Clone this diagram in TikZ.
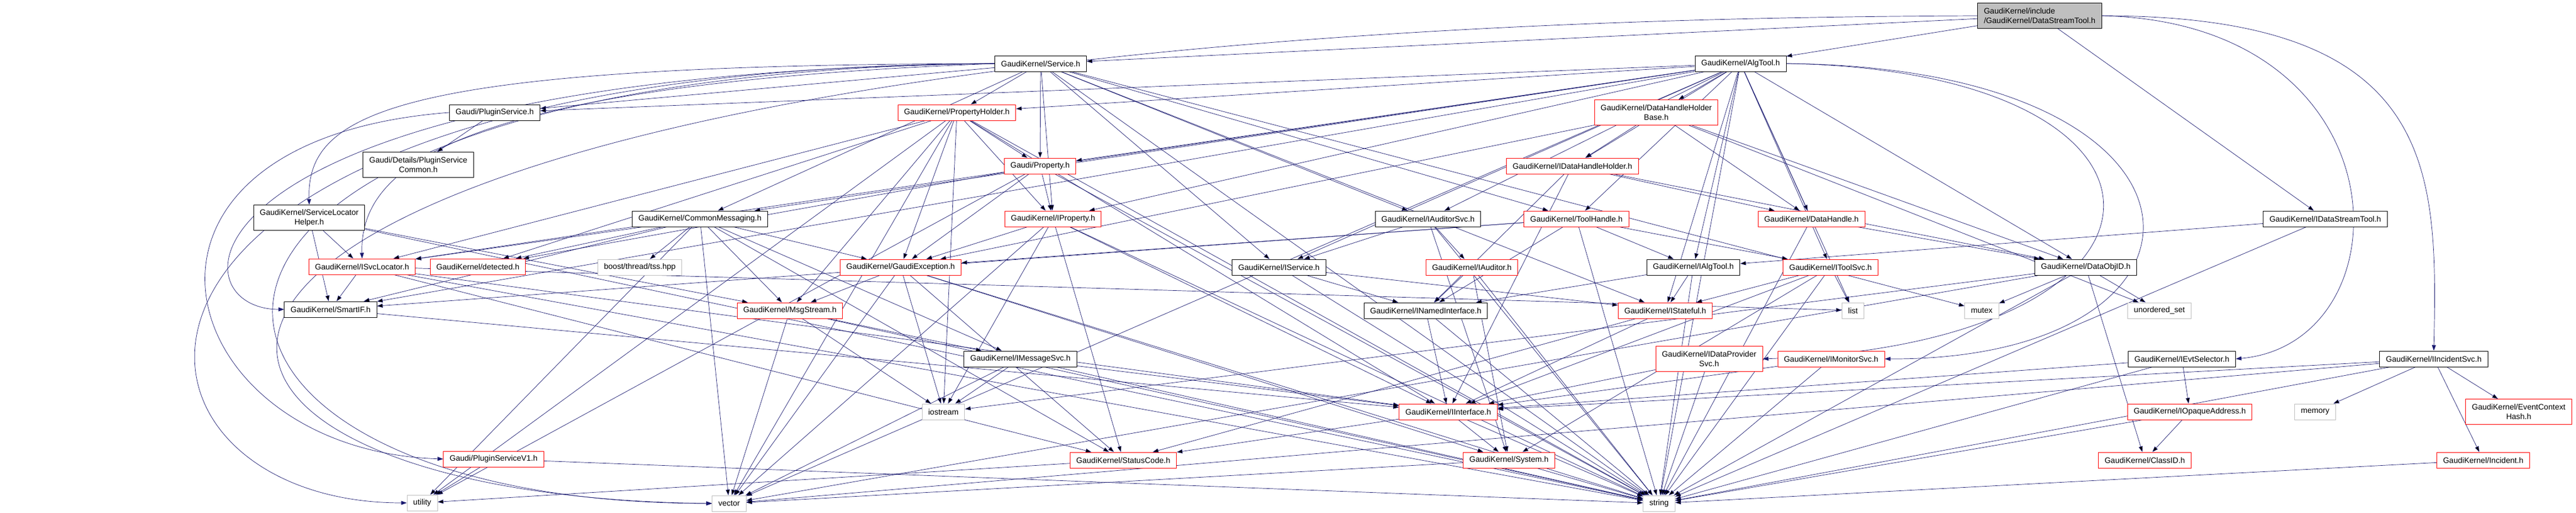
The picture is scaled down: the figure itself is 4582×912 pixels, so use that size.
\documentclass[tikz,border=0pt]{standalone}
\usepackage{fontspec}
\setmainfont{Liberation Sans}
\usetikzlibrary{arrows.meta, backgrounds}
\definecolor{edgeblue}{HTML}{191970}
\definecolor{lightgrey}{HTML}{BFBFBF}
\begin{document}
\begin{tikzpicture}[x=0.2mm, y=-0.2mm, line width=0.55pt,
  hfile/.style = {draw=black, fill=white, minimum height=5.6mm, inner xsep=2.2mm, inner ysep=0.4mm, align=center, font=\fontsize{8}{9.6}\selectfont},
  hred/.style = {hfile, draw=red},
  hsys/.style = {hfile, draw=lightgrey},
  hroot/.style = {hfile, fill=lightgrey, align=left, minimum height=9mm},
  two/.style = {minimum height=9mm},
  dep/.style = {draw=edgeblue, -{Triangle[length=2mm, width=1.4mm]}}]
\useasboundingbox (0,0) rectangle (4582,912);
\node[hroot] (dst) at (3628,28) {GaudiKernel/include\\/GaudiKernel/DataStreamTool.h};
\node[hfile] (svc) at (1851,113) {GaudiKernel/Service.h};
\node[hfile] (algtool) at (3096,113) {GaudiKernel/AlgTool.h};
\node[hfile] (plugsvc) at (880,200) {Gaudi/PluginService.h};
\node[hred] (propholder) at (1702,200) {GaudiKernel/PropertyHolder.h};
\node[hred, two] (dhhbase) at (2946,200) {GaudiKernel/DataHandleHolder\\Base.h};
\node[hfile, two] (plugcommon) at (744,293) {Gaudi/Details/PluginService\\Common.h};
\node[hred] (prop) at (1850,295) {Gaudi/Property.h};
\node[hred] (idhh) at (2797,295) {GaudiKernel/IDataHandleHolder.h};
\node[hfile, two] (slhelper) at (550,387) {GaudiKernel/ServiceLocator\\Helper.h};
\node[hfile] (commsg) at (1245,389) {GaudiKernel/CommonMessaging.h};
\node[hred] (iprop) at (1873,389) {GaudiKernel/IProperty.h};
\node[hfile] (iauditorsvc) at (2540,389) {GaudiKernel/IAuditorSvc.h};
\node[hred] (toolhandle) at (2804,389) {GaudiKernel/ToolHandle.h};
\node[hred] (datahandle) at (3222,389) {GaudiKernel/DataHandle.h};
\node[hfile] (idst) at (4136,389) {GaudiKernel/IDataStreamTool.h};
\node[hred] (isvcloc) at (644,474) {GaudiKernel/ISvcLocator.h};
\node[hred] (detected) at (850,474) {GaudiKernel/detected.h};
\node[hsys] (tss) at (1138,475) {boost/thread/tss.hpp};
\node[hred] (gexc) at (1602,475) {GaudiKernel/GaudiException.h};
\node[hfile] (iservice) at (2275,475) {GaudiKernel/IService.h};
\node[hred] (iauditor) at (2618,475) {GaudiKernel/IAuditor.h};
\node[hfile] (ialgtool) at (3012,475) {GaudiKernel/IAlgTool.h};
\node[hred] (itoolsvc) at (3256,475) {GaudiKernel/IToolSvc.h};
\node[hfile] (dataobjid) at (3710,475) {GaudiKernel/DataObjID.h};
\node[hfile] (smartif) at (588,550) {GaudiKernel/SmartIF.h};
\node[hred] (msgstream) at (1405,552) {GaudiKernel/MsgStream.h};
\node[hfile] (inamed) at (2536,552) {GaudiKernel/INamedInterface.h};
\node[hred] (istateful) at (2962,552) {GaudiKernel/IStateful.h};
\node[hsys] (list) at (3296,552) {list};
\node[hsys] (mutex) at (3525,552) {mutex};
\node[hsys] (uset) at (3841,552) {unordered\_set};
\node[hfile] (imsgsvc) at (1815,638) {GaudiKernel/IMessageSvc.h};
\node[hred, two] (idpsvc) at (3040,638) {GaudiKernel/IDataProvider\\Svc.h};
\node[hred] (imonsvc) at (3257,638) {GaudiKernel/IMonitorSvc.h};
\node[hfile] (ievtsel) at (3881,638) {GaudiKernel/IEvtSelector.h};
\node[hfile] (iincsvc) at (4329,638) {GaudiKernel/IIncidentSvc.h};
\node[hsys] (iostream) at (1678,732) {iostream};
\node[hred] (iinterface) at (2576,732) {GaudiKernel/IInterface.h};
\node[hred] (iopaque) at (3895,732) {GaudiKernel/IOpaqueAddress.h};
\node[hsys] (memory) at (4118,732) {memory};
\node[hred, two] (ech) at (4480,732) {GaudiKernel/EventContext\\Hash.h};
\node[hred] (plugv1) at (878,816) {Gaudi/PluginServiceV1.h};
\node[hred] (statuscode) at (1998,818) {GaudiKernel/StatusCode.h};
\node[hred] (system) at (2684,818) {GaudiKernel/System.h};
\node[hred] (classid) at (3815,818) {GaudiKernel/ClassID.h};
\node[hred] (incident) at (4417,818) {GaudiKernel/Incident.h};
\node[hsys] (utility) at (751,894) {utility};
\node[hsys] (vector) at (1297,895) {vector};
\node[hsys] (string) at (2951,895) {string};
\begin{pgfonlayer}{background}
\fill[white] (0,0) rectangle (4582,912);
\draw[dep] (dst) edge (algtool) edge (svc) edge (idst);
\draw[dep] (dst.east) .. controls (4285,40) and (4285,610) .. (ievtsel.east);
\draw[dep] (dst.east) .. controls (4336,28) and (4336,300) .. (iincsvc.north);
\draw[dep] (dst.west) .. controls (0,40) and (0,880) .. (vector.west);
\draw[dep] (svc) edge (plugsvc) edge (propholder) edge (prop) edge (iprop) edge (commsg) edge (iauditorsvc) edge (iservice) edge (istateful) edge (toolhandle) edge (mutex) edge (string);
\draw[dep] (svc.west) .. controls (700,115) and (545,200) .. (slhelper.north);
\draw[dep] (svc.west) .. controls (800,150) and (640,300) .. (isvcloc.north);
\draw[dep] (svc.west) .. controls (300,130) and (300,550) .. (smartif.west);
\draw[dep] (svc.west) .. controls (100,130) and (200,895) .. (vector.west);
\draw[dep] (svc.west) .. controls (50,120) and (150,894) .. (utility.west);
\draw[dep] (algtool) edge (dhhbase) edge (idhh) edge (datahandle) edge (toolhandle) edge (ialgtool) edge (itoolsvc) edge (iservice) edge (istateful) edge (iauditorsvc) edge (iprop) edge (prop) edge (propholder) edge (commsg) edge (plugsvc) edge (isvcloc) edge (smartif) edge (list) edge (dataobjid) edge (vector) edge (string);
\draw[dep] (algtool.east) .. controls (3990,120) and (3990,640) .. (imonsvc.east);
\draw[dep] (algtool.east) .. controls (3935,125) and (3935,610) .. (idpsvc.east);
\draw[dep] (propholder) edge (prop) edge (iprop) edge (gexc) edge (detected) edge (isvcloc) edge (msgstream) edge (iinterface) edge (iostream) edge (vector) edge (string) edge (utility);
\draw[dep] (prop) edge (iprop) edge (detected) edge (gexc) edge (utility) edge (string);
\draw[dep] (plugsvc) edge (plugcommon);
\draw[dep] (plugsvc.west) .. controls (150,250) and (300,800) .. (plugv1.west);
\draw[dep] (dhhbase) edge (idhh) edge (datahandle) edge (dataobjid) edge (gexc) edge (uset);
\draw[dep] (idhh) edge (datahandle) edge (dataobjid) edge (inamed) edge (iinterface);
\draw[dep] (iprop) edge (iinterface) edge (statuscode) edge (iostream) edge (string) edge (vector) edge (gexc);
\draw[dep] (commsg) edge (tss) edge (msgstream) edge (gexc) edge (imsgsvc) edge (isvcloc) edge (smartif) edge (detected) edge (statuscode) edge (utility) edge (vector);
\draw[dep] (slhelper) edge (isvcloc) edge (smartif) edge (msgstream) edge (string);
\draw[dep] (iauditorsvc) edge (iservice) edge (iauditor) edge (system) edge (string);
\draw[dep] (toolhandle) edge (ialgtool) edge (itoolsvc) edge (inamed) edge (gexc) edge (smartif) edge (string);
\draw[dep] (datahandle) edge (dataobjid) edge (string);
\draw[dep] (idst) edge (ialgtool) edge (string);
\draw[dep] (isvcloc) edge (smartif) edge (iinterface) edge (statuscode) edge (list) edge (string);
\draw[dep] (gexc) edge (msgstream) edge (statuscode) edge (system) edge (iostream) edge (string) edge (vector);
\draw[dep] (iservice) edge (inamed) edge (istateful) edge (string);
\draw[dep] (iauditor) edge (inamed) edge (system) edge (string);
\draw[dep] (ialgtool) edge (istateful) edge (inamed) edge (string);
\draw[dep] (itoolsvc) edge (list) edge (istateful) edge (iinterface) edge (system) edge (string);
\draw[dep] (dataobjid) edge (mutex) edge (uset) edge (classid) edge (iostream) edge (string) edge (vector);
\draw[dep] (smartif) edge (iinterface);
\draw[dep] (msgstream) edge (imsgsvc) edge (vector) edge (string) edge (iostream);
\draw[dep] (inamed) edge (iinterface) edge (string);
\draw[dep] (istateful) edge (iinterface) edge (statuscode);
\draw[dep] (imsgsvc) edge (iostream) edge (iinterface) edge (string) edge (vector);
\draw[dep] (idpsvc) edge (iinterface) edge (string);
\draw[dep] (imonsvc) edge (iinterface) edge (string);
\draw[dep] (ievtsel) edge (iopaque) edge (iinterface) edge (string);
\draw[dep] (iincsvc) edge (memory) edge (ech) edge (incident) edge (iinterface) edge (string) edge (vector);
\draw[dep] (iinterface) edge (system) edge (statuscode) edge (string);
\draw[dep] (iopaque) edge (classid) edge (string);
\draw[dep] (plugv1) edge (utility) edge (string);
\draw[dep] (statuscode) edge (utility);
\draw[dep] (system) edge (string) edge (vector);
\draw[dep] (incident) edge (string);
\end{pgfonlayer}
\end{tikzpicture}
\end{document}
